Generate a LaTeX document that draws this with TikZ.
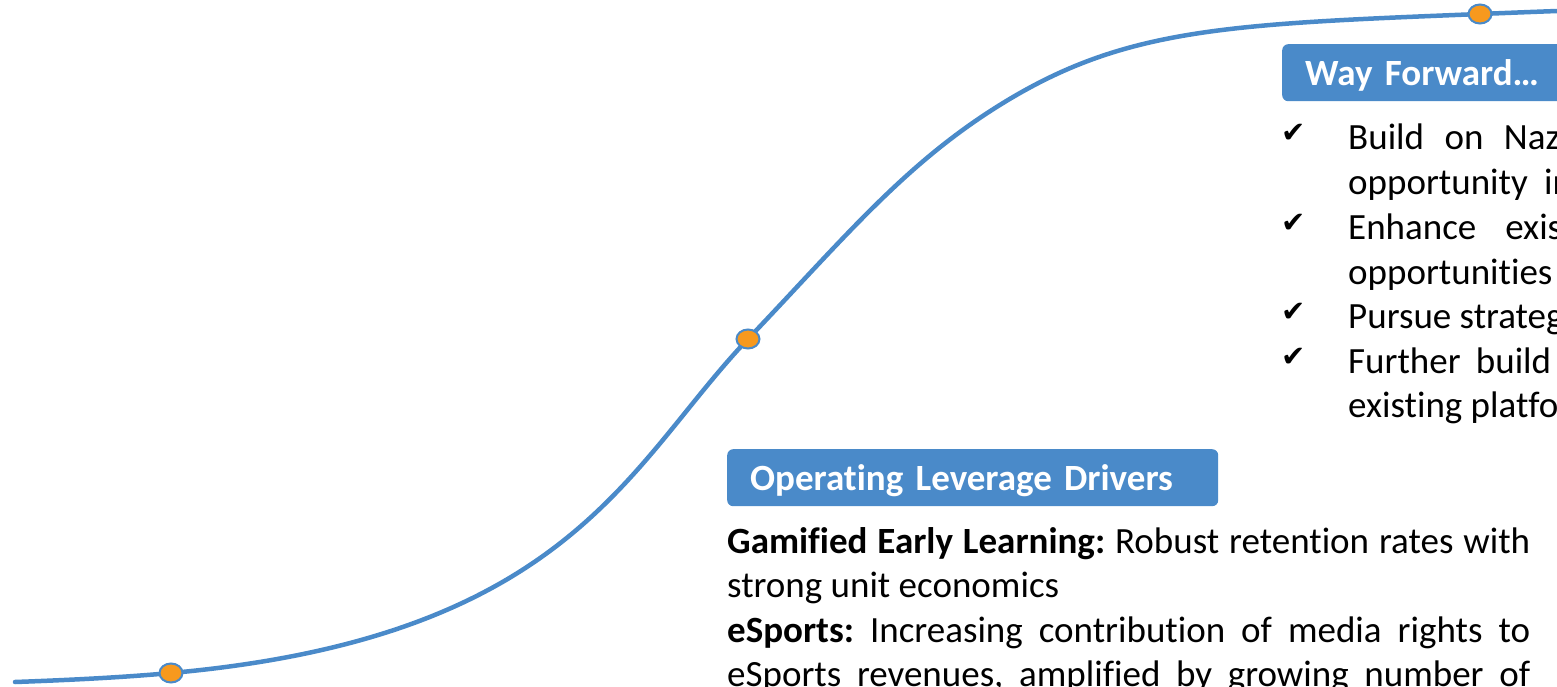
\documentclass[tikz,border=0pt]{standalone}
\usepackage{fontspec}
\setmainfont{Carlito}[Ligatures=NoCommon]
\newfontfamily\tickfont{DejaVu Sans}
\usetikzlibrary{positioning, shapes.geometric}
\definecolor{curveblue}{HTML}{4A8AC9}
\definecolor{dotorange}{HTML}{F7991E}
\tikzset{
    curve/.style={curveblue, line width=4.5pt, line cap=round},
    stagedot/.style={ellipse, draw=curveblue, fill=dotorange, line width=2pt, minimum width=23pt, minimum height=19pt, inner sep=0pt},
    headbox/.style={fill=curveblue, rounded corners=6pt, text=white, anchor=north west, align=left,
        font=\bfseries\fontsize{37}{44.5}\selectfont, inner xsep=23pt, inner ysep=0pt,
        minimum height=57pt, text height=30pt, text depth=5pt},
    bodytext/.style={anchor=base west, inner sep=0pt, font=\fontsize{37}{44.5}\selectfont},
    tick/.style={anchor=base, inner sep=0pt, font=\tickfont\fontsize{29}{29}\selectfont}
}
\begin{document}
\frenchspacing
\begin{tikzpicture}[x=1pt, y=-1pt]
    \useasboundingbox (0,0) rectangle (1557,687);
    \clip (0,0) rectangle (1557,687);

    % Define points on the curve
    \coordinate (low)  at (15,682);
    \coordinate (p1)   at (171,673);
    \coordinate (p2)   at (748,339);
    \coordinate (knee) at (1008,100);
    \coordinate (p3)   at (1480,14);
    \coordinate (high) at (1620,9);

    % Draw curve
    \draw[curve] (low) .. controls (70,680) and (121,677.5) .. (p1)
        .. controls (571,637) and (628,465) .. (p2)
        .. controls (848,234) and (908,160) .. (knee)
        .. controls (1128,28) and (1230,24) .. (p3)
        .. controls (1530,12) and (1580,10) .. (high);

    % Define nodes
    \node[stagedot] (start) at (p1) {};
    \node[stagedot] (mid)   at (p2) {};
    \node[stagedot] (top)   at (p3) {};

    \node[headbox, text width=445pt] (drivers) at (727,449) {Operating Leverage Drivers};
    \node[headbox, text width=300pt] (forward) at (1282,44) {Way Forward…};

    \node[bodytext, text width=803pt, align=justify] (driverstext) at (727,553)
        {\hyphenpenalty=10000\textbf{Gamified Early Learning:} Robust retention rates with\linebreak
        strong unit economics\par
        \textbf{eSports:} Increasing contribution of media rights to\linebreak
        \makebox[\linewidth][s]{eSports revenues, amplified by growing number of}};

    \node[tick] (tick1) at (1294,143) {✔};
    \node[tick] (tick2) at (1294,232) {✔};
    \node[tick] (tick3) at (1294,321) {✔};
    \node[tick] (tick4) at (1294,366) {✔};

    \node[bodytext] (way1) at (1348,150) {\makebox[212pt][s]{Build on Naz}};
    \node[bodytext] (way2) at (1348,195) {\makebox[224pt][s]{opportunity in}};
    \node[bodytext] (way3) at (1348,239) {\makebox[214pt][s]{Enhance exis}};
    \node[bodytext] (way4) at (1348,284) {opportunities};
    \node[bodytext] (way5) at (1348,328) {Pursue strateg};
    \node[bodytext] (way6) at (1348,373) {\makebox[203pt][s]{Further build}};
    \node[bodytext] (way7) at (1348,417) {existing platfo};
\end{tikzpicture}
\end{document}
